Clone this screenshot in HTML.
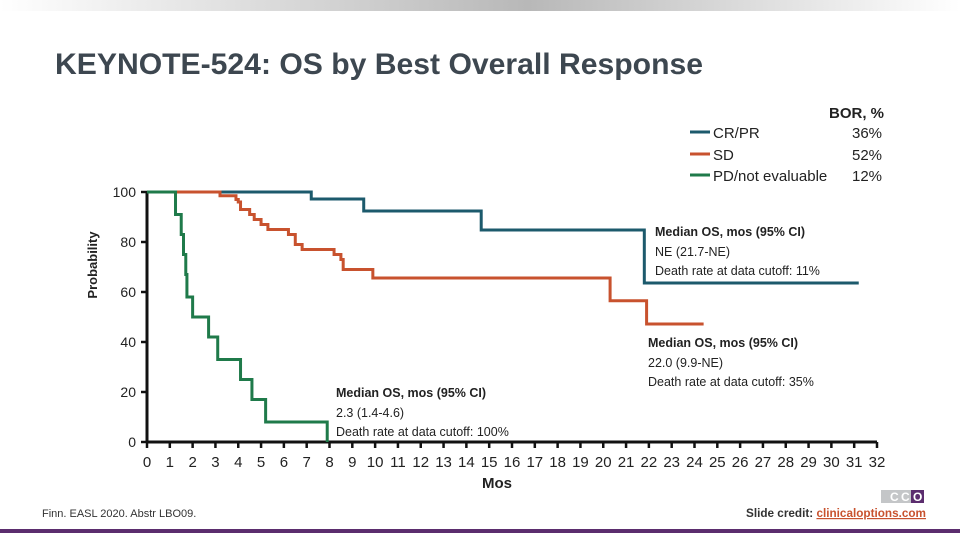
<!DOCTYPE html>
<html><head><meta charset="utf-8"><style>
html,body{margin:0;padding:0;background:#fff;}
svg{display:block;font-family:"Liberation Sans",sans-serif;}
</style></head><body>
<svg id="chart" width="960" height="540" viewBox="0 0 960 540">
<defs><linearGradient id="tg" x1="0" x2="1"><stop offset="0" stop-color="#fff"/><stop offset="0.55" stop-color="#b8b8b8"/><stop offset="1" stop-color="#fff"/></linearGradient></defs>
<rect x="0" y="0" width="960" height="11" fill="url(#tg)"/>
<text x="55" y="74" font-size="30" font-weight="bold" fill="#3d4750" textLength="648" lengthAdjust="spacingAndGlyphs">KEYNOTE-524: OS by Best Overall Response</text>
<g id="axes"></g>
<g id="series"></g>
<text x="97" y="265" font-size="13" font-weight="bold" fill="#222" text-anchor="middle" transform="rotate(-90 97 265)">Probability</text>
<text x="497" y="488" font-size="15" font-weight="bold" fill="#222" text-anchor="middle">Mos</text>
<g font-size="15" fill="#222">
<text x="884" y="118" font-weight="bold" text-anchor="end">BOR, %</text>
<line x1="690" x2="710" y1="132" y2="132" stroke="#1c5a6c" stroke-width="3"/>
<text x="713" y="138">CR/PR</text><text x="852" y="138">36%</text>
<line x1="690" x2="710" y1="154" y2="154" stroke="#c8522e" stroke-width="3"/>
<text x="713" y="160">SD</text><text x="852" y="160">52%</text>
<line x1="690" x2="710" y1="175" y2="175" stroke="#1f7a4a" stroke-width="3"/>
<text x="713" y="181">PD/not evaluable</text><text x="852" y="181">12%</text>
</g>
<g font-size="12.5" fill="#222">
<text x="655" y="236" font-weight="bold">Median OS, mos (95% CI)</text>
<text x="655" y="256">NE (21.7-NE)</text>
<text x="655" y="275">Death rate at data cutoff: 11%</text></g>
<g font-size="12.5" fill="#222">
<text x="648" y="347" font-weight="bold">Median OS, mos (95% CI)</text>
<text x="648" y="367">22.0 (9.9-NE)</text>
<text x="648" y="386">Death rate at data cutoff: 35%</text></g>
<g font-size="12.5" fill="#222">
<text x="336" y="397" font-weight="bold">Median OS, mos (95% CI)</text>
<text x="336" y="417">2.3 (1.4-4.6)</text>
<text x="336" y="436">Death rate at data cutoff: 100%</text></g>
<text x="42" y="517" font-size="11" fill="#333">Finn. EASL 2020. Abstr LBO09.</text>
<g>
<rect x="881" y="490" width="30" height="13" fill="#c4c6c8"/><rect x="911" y="490" width="13" height="13" fill="#5b2d6e"/>
<text x="890" y="501" font-size="12" fill="#fff" font-weight="bold">C</text><text x="901" y="501" font-size="12" fill="#fff" font-weight="bold">C</text><text x="913" y="501" font-size="12" fill="#fff" font-weight="bold">O</text></g>
<text x="746" y="517" font-size="12" font-weight="bold" fill="#333" textLength="180" lengthAdjust="spacingAndGlyphs">Slide credit: <tspan fill="#c8522e" text-decoration="underline">clinicaloptions.com</tspan></text>
<rect x="0" y="529" width="960" height="4" fill="#5b2d6e"/>
</svg>
<script>
const xTicks=[0,1,2,3,4,5,6,7,8,9,10,11,12,13,14,15,16,17,18,19,20,21,22,23,24,25,26,27,28,29,30,31,32];
const yTicks=[0,20,40,60,80,100];
const crprTimes=[0,7.2,9.5,14.65,21.8,31.2];
const crprSurv=[100,97.2,92.4,84.8,63.6,63.6];
const sdTimes=[0,3.2,3.9,4.0,4.1,4.5,4.7,5.0,5.3,6.2,6.5,6.8,8.2,8.5,8.6,9.9,20.3,21.9,24.4];
const sdSurv=[100,98.5,97,96,93,91,89,87,85,83,79,77,75,73,69,65.6,56.5,47.2,47.2];
const pdTimes=[0,1.25,1.5,1.6,1.7,1.75,2.0,2.7,3.1,4.1,4.6,5.2,7.9];
const pdSurv=[100,91,83,75,67,58,50,42,33,25,17,8,0];
const NS="http://www.w3.org/2000/svg";
const X=v=>147+v*(877-147)/32, Y=v=>442-v*2.5;
const axes=document.getElementById('axes'), ser=document.getElementById('series');
function mk(t,a,p){const e=document.createElementNS(NS,t);for(const k in a)e.setAttribute(k,a[k]);p.appendChild(e);return e;}
let e=mk('line',{x1:X(0),x2:X(32),y1:Y(0),y2:Y(0),stroke:'#111','stroke-width':3},axes);


e=mk('line',{x1:X(0),x2:X(0),y1:Y(0),y2:Y(100),stroke:'#111','stroke-width':3},axes);


xTicks.forEach(t=>{
 mk('line',{x1:X(t),x2:X(t),y1:Y(0),y2:Y(0)+6,stroke:'#111','stroke-width':2.5},axes);
 const tx=mk('text',{x:X(t),y:467,'font-size':15,'text-anchor':'middle',fill:'#222'},axes);tx.textContent=t;
 
 
});
yTicks.forEach(t=>{
 mk('line',{x1:X(0)-6,x2:X(0),y1:Y(t),y2:Y(t),stroke:'#111','stroke-width':2.5},axes);
 const tx=mk('text',{x:136,y:Y(t)+5,'font-size':14,'text-anchor':'end',fill:'#222'},axes);tx.textContent=t;
 
 
});
function step(ts,ss,col,name){
 let d='M'+X(ts[0])+' '+Y(ss[0]);
 for(let i=1;i<ts.length;i++){d+=' H'+X(ts[i])+' V'+Y(ss[i]);}
 const p=mk('path',{d:d,fill:'none',stroke:col,'stroke-width':3},ser);
 
 
}
step(crprTimes,crprSurv,'#1c5a6c','curve-crpr');
step(sdTimes,sdSurv,'#c8522e','curve-sd');
step(pdTimes,pdSurv,'#1f7a4a','curve-pd');
</script>
</body></html>
